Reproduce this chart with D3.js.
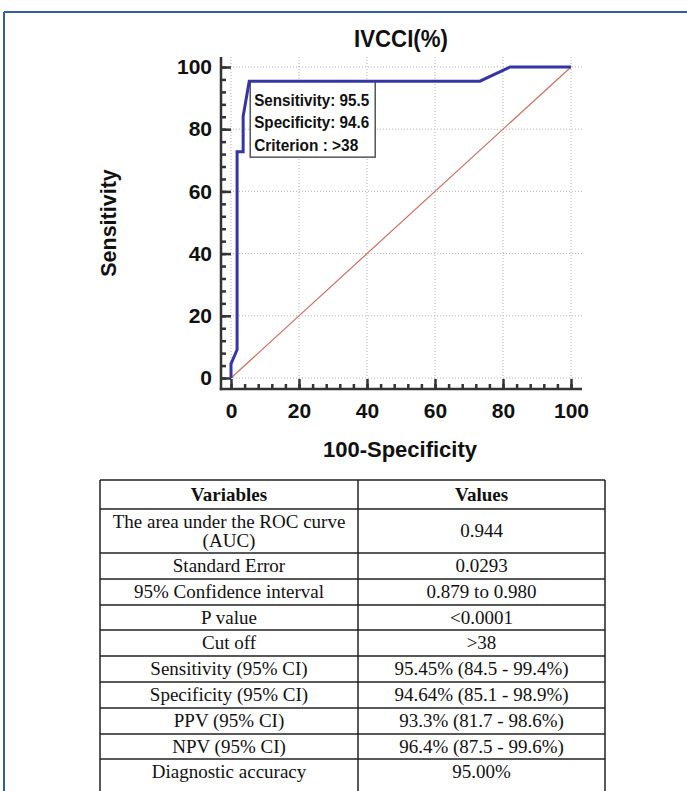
<!DOCTYPE html>
<html>
<head>
<meta charset="utf-8">
<script src="https://cdn.jsdelivr.net/npm/d3@7"></script>
<style>
  html, body { margin: 0; padding: 0; background: #fff; }
  svg { display: block; }
</style>
</head>
<body>
<svg id="chart" width="687" height="791"></svg>
<script>
// ROC curve points (100-Specificity, Sensitivity)
var fpr = [0, 0, 1.79, 1.79, 3.57, 3.57, 5.36, 73.2, 82.1, 100];
var tpr = [0, 4.55, 9.09, 72.73, 72.73, 84.09, 95.45, 95.45, 100, 100];
var diagonal = [0, 100];
var majorTicks = [0, 20, 40, 60, 80, 100];

var cutPoint = { x: 5.36, y: 95.45 };
var cutLabels = ['Sensitivity: 95.5', 'Specificity: 94.6', 'Criterion : >38'];

var tableHeader = ['Variables', 'Values'];
var tableVariables = [
  'The area under the ROC curve\n(AUC)',
  'Standard Error',
  '95% Confidence interval',
  'P value',
  'Cut off',
  'Sensitivity (95% CI)',
  'Specificity (95% CI)',
  'PPV (95% CI)',
  'NPV (95% CI)',
  'Diagnostic accuracy'
];
var tableValues = [
  '0.944',
  '0.0293',
  '0.879 to 0.980',
  '<0.0001',
  '>38',
  '95.45% (84.5 - 99.4%)',
  '94.64% (85.1 - 98.9%)',
  '93.3% (81.7 - 98.6%)',
  '96.4% (87.5 - 99.6%)',
  '95.00%'
];

InitChart();

function InitChart() {
  var svg = d3.select('#chart');
  var SANS = '"Liberation Sans", Arial, sans-serif';
  var SERIF = '"Liberation Serif", "Times New Roman", serif';

  // page frame (blue rule top + left)
  svg.append('line').attr('x1', 4).attr('x2', 687).attr('y1', 12).attr('y2', 12)
    .attr('stroke', '#2f5db0').attr('stroke-width', 2);
  svg.append('line').attr('x1', 4).attr('x2', 4).attr('y1', 12).attr('y2', 791)
    .attr('stroke', '#2f5db0').attr('stroke-width', 2);

  var PLOT = { left: 221, right: 582, top: 57, bottom: 389 };

  var xScale = d3.scaleLinear().domain([0, 100]).range([231, 571]);
  var yScale = d3.scaleLinear().domain([0, 100]).range([378, 67]);

  // grid
  var grid = svg.append('g').attr('stroke', '#b5b5b5').attr('stroke-width', 1)
    .attr('stroke-dasharray', '1,2');
  grid.selectAll('.gx').data(majorTicks).enter().append('line')
    .attr('x1', function(d) { return xScale(d); })
    .attr('x2', function(d) { return xScale(d); })
    .attr('y1', PLOT.top).attr('y2', PLOT.bottom);
  grid.selectAll('.gy').data(majorTicks).enter().append('line')
    .attr('y1', function(d) { return yScale(d); })
    .attr('y2', function(d) { return yScale(d); })
    .attr('x1', PLOT.left).attr('x2', PLOT.right);

  // axes
  var yAxis = d3.axisLeft(yScale).tickValues(majorTicks).tickSize(-10).tickPadding(9);
  var yMinor = d3.axisLeft(yScale).tickValues(d3.range(0, 101, 4)).tickSize(-5).tickFormat('');
  var xAxis = d3.axisBottom(xScale).tickValues(majorTicks).tickSize(-10).tickPadding(14);
  var xMinor = d3.axisBottom(xScale).tickValues(d3.range(0, 101, 4)).tickSize(-5).tickFormat('');

  function styleAxis(g) {
    g.select('.domain').remove();
    g.selectAll('line').attr('stroke', '#333').attr('stroke-width', 2.5);
    g.selectAll('text').attr('fill', '#111').style('font-family', SANS)
      .style('font-weight', 'bold').style('font-size', '21px');
  }

  svg.append('g').attr('transform', 'translate(' + PLOT.left + ',0)').call(yMinor).call(styleAxis);
  svg.append('g').attr('transform', 'translate(' + PLOT.left + ',0)').call(yAxis).call(styleAxis);
  svg.append('g').attr('transform', 'translate(0,' + PLOT.bottom + ')').call(xMinor).call(styleAxis);
  svg.append('g').attr('transform', 'translate(0,' + PLOT.bottom + ')').call(xAxis).call(styleAxis);

  svg.append('line').attr('x1', PLOT.left).attr('x2', PLOT.left)
    .attr('y1', PLOT.top).attr('y2', PLOT.bottom + 1.25)
    .attr('stroke', '#333').attr('stroke-width', 2.5);
  svg.append('line').attr('x1', PLOT.left - 1.25).attr('x2', PLOT.right)
    .attr('y1', PLOT.bottom).attr('y2', PLOT.bottom)
    .attr('stroke', '#333').attr('stroke-width', 2.5);

  // diagonal reference
  svg.append('line')
    .attr('x1', xScale(diagonal[0])).attr('y1', yScale(diagonal[0]))
    .attr('x2', xScale(diagonal[1])).attr('y2', yScale(diagonal[1]))
    .attr('stroke', '#c8705f').attr('stroke-width', 1.2);

  // criterion box
  var bx = xScale(cutPoint.x) + 1, by = yScale(cutPoint.y);
  svg.append('rect').attr('x', bx).attr('y', by).attr('width', 125).attr('height', 76)
    .attr('fill', '#fff').attr('stroke', '#555').attr('stroke-width', 1.5);
  var cutWidths = [115, 115, 104];
  svg.selectAll('.cut').data(cutLabels).enter().append('text')
    .attr('x', bx + 4)
    .attr('y', function(d, i) { return by + 24.5 + i * 22.5; })
    .attr('textLength', function(d, i) { return cutWidths[i]; })
    .attr('lengthAdjust', 'spacingAndGlyphs')
    .style('font-family', SANS).style('font-weight', 'bold').style('font-size', '16.5px')
    .attr('fill', '#111')
    .text(function(d) { return d; });

  // ROC curve
  var line = d3.line()
    .x(function(d) { return xScale(d); })
    .y(function(d, i) { return yScale(tpr[i]); });
  svg.append('path').datum(fpr).attr('d', line)
    .attr('fill', 'none').attr('stroke', '#3535a6').attr('stroke-width', 3)
    .attr('stroke-linejoin', 'miter');

  // titles
  svg.append('text').attr('x', 401).attr('y', 47).attr('text-anchor', 'middle')
    .attr('textLength', 94).attr('lengthAdjust', 'spacingAndGlyphs')
    .style('font-family', SANS).style('font-weight', 'bold').style('font-size', '23.5px')
    .attr('fill', '#111').text('IVCCI(%)');
  svg.append('text').attr('x', 400).attr('y', 457).attr('text-anchor', 'middle')
    .style('font-family', SANS).style('font-weight', 'bold').style('font-size', '22px')
    .attr('fill', '#111').text('100-Specificity');
  svg.append('text').attr('transform', 'translate(108,223) rotate(-90)')
    .attr('text-anchor', 'middle').attr('dy', '0.36em')
    .style('font-family', SANS).style('font-weight', 'bold').style('font-size', '21.5px')
    .attr('fill', '#111').text('Sensitivity');

  // table
  var T = { left: 100, mid: 358, right: 605 };
  var rowLines = [480, 509, 553, 579, 605, 630, 656, 682, 708, 734, 759, 785];
  var tbl = svg.append('g');
  tbl.selectAll('.hl').data(rowLines.slice(0, -1)).enter().append('line')
    .attr('x1', T.left).attr('x2', T.right)
    .attr('y1', function(d) { return d; }).attr('y2', function(d) { return d; })
    .attr('stroke', '#222').attr('stroke-width', 1.5);
  [T.left, T.mid, T.right].forEach(function(x) {
    tbl.append('line').attr('x1', x).attr('x2', x)
      .attr('y1', rowLines[0]).attr('y2', 791)
      .attr('stroke', '#222').attr('stroke-width', 1.5);
  });

  var cx1 = (T.left + T.mid) / 2, cx2 = (T.mid + T.right) / 2;
  var rows = [tableHeader].concat(tableVariables.map(function(v, i) { return [v, tableValues[i]]; }));
  rows.forEach(function(r, i) {
    var top = rowLines[i], bot = rowLines[i + 1], mid = (top + bot) / 2;
    [r[0], r[1]].forEach(function(txt, j) {
      var parts = txt.split('\n');
      var t = tbl.append('text').attr('x', j === 0 ? cx1 : cx2)
        .attr('text-anchor', 'middle')
        .style('font-family', SERIF).style('font-size', '19px')
        .style('font-weight', i === 0 ? 'bold' : 'normal')
        .attr('fill', '#111');
      parts.forEach(function(p, k) {
        t.append('tspan').attr('x', j === 0 ? cx1 : cx2)
          .attr('y', mid + 6 + (k - (parts.length - 1) / 2) * 19)
          .text(p);
      });
    });
  });
}
</script>
</body>
</html>
